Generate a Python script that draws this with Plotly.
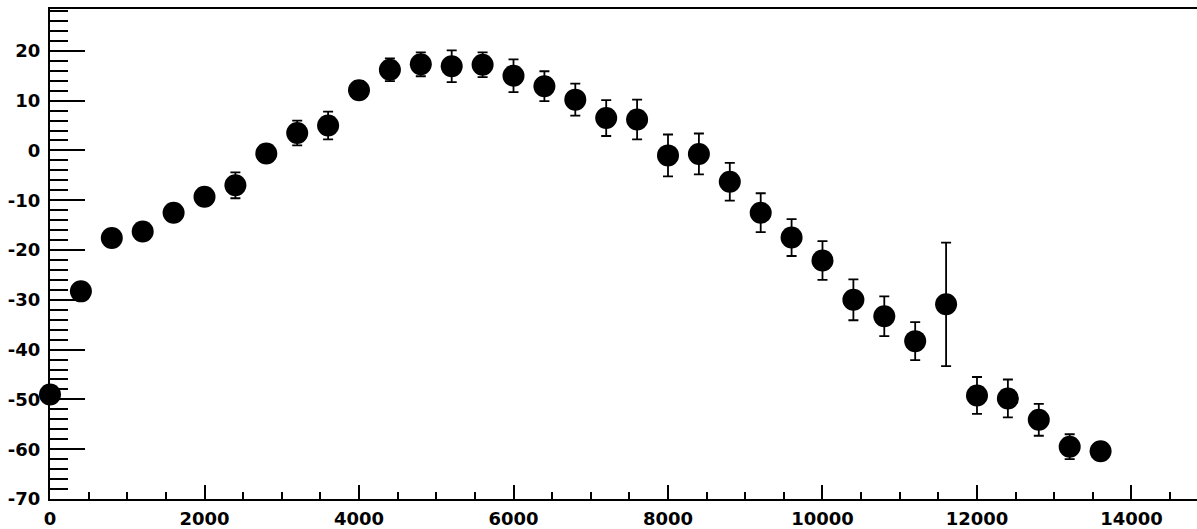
import plotly.graph_objects as go

x_vals = [0, 400, 800, 1200, 1600, 2000, 2400, 2800, 3200, 3600, 4000, 4400,
          4800, 5200, 5600, 6000, 6400, 6800, 7200, 7600, 8000, 8400, 8800,
          9200, 9600, 10000, 10400, 10800, 11200, 11600, 12000, 12400, 12800,
          13200, 13600]
y_vals = [-49.0, -28.3, -17.6, -16.3, -12.5, -9.3, -7.0, -0.6, 3.5, 5.0, 12.1,
          16.2, 17.3, 16.9, 17.2, 15.0, 12.9, 10.2, 6.5, 6.2, -1.0, -0.7, -6.3,
          -12.5, -17.5, -22.1, -30.0, -33.3, -38.3, -30.9, -49.2, -49.8, -54.1,
          -59.5, -60.4]
y_err = [1.5, 1.5, 1.2, 1.2, 1.3, 1.5, 2.6, 1.6, 2.5, 2.8, 1.8, 2.3, 2.4, 3.2,
         2.5, 3.3, 3.0, 3.2, 3.6, 4.0, 4.2, 4.1, 3.8, 3.9, 3.7, 3.9, 4.1, 4.0,
         3.8, 12.4, 3.7, 3.8, 3.2, 2.5, 1.5]

x_range = [0, 14848]
y_range = [-70, 28.4]
y_ticks = [-70, -60, -50, -40, -30, -20, -10, 0, 10, 20]
x_ticks = [0, 2000, 4000, 6000, 8000, 10000, 12000, 14000]

fig = go.Figure()
fig.add_trace(go.Scatter(
    x=x_vals, y=y_vals, mode="markers",
    marker=dict(color="black", size=22, line=dict(width=0)),
    error_y=dict(type="data", array=y_err, visible=True, color="black",
                 thickness=1.8, width=5),
    cliponaxis=False,
))

font = dict(family="DejaVu Sans, Liberation Sans, sans-serif", size=18,
            color="black", weight="bold")

fig.update_layout(
    width=1197, height=529,
    margin=dict(l=50, r=0, t=9, b=28),
    paper_bgcolor="white", plot_bgcolor="white",
    showlegend=False,
    font=font,
)
fig.update_xaxes(
    range=x_range, tickvals=x_ticks, ticktext=[str(v) for v in x_ticks],
    showgrid=False, zeroline=False,
    showline=True, linecolor="black", linewidth=2, mirror=True,
    ticks="inside", ticklen=14, tickwidth=1.8, tickcolor="black",
    minor=dict(dtick=500, tick0=0, ticks="inside", ticklen=7, tickwidth=1.8,
               tickcolor="black", showgrid=False),
    tickfont=font, ticklabelstandoff=2,
)
fig.update_yaxes(
    range=y_range, tickvals=y_ticks, ticktext=[str(v) for v in y_ticks],
    showgrid=False, zeroline=False,
    showline=True, linecolor="black", linewidth=2, mirror=False,
    ticks="inside", ticklen=35, tickwidth=1.8, tickcolor="black",
    minor=dict(dtick=2, tick0=0, ticks="inside", ticklen=18, tickwidth=1.8,
               tickcolor="black", showgrid=False),
    tickfont=font, ticklabelstandoff=4,
)

fig.write_html("out.html", config={"displayModeBar": False},
               post_script="document.body.style.margin='0';document.body.style.padding='0';")
